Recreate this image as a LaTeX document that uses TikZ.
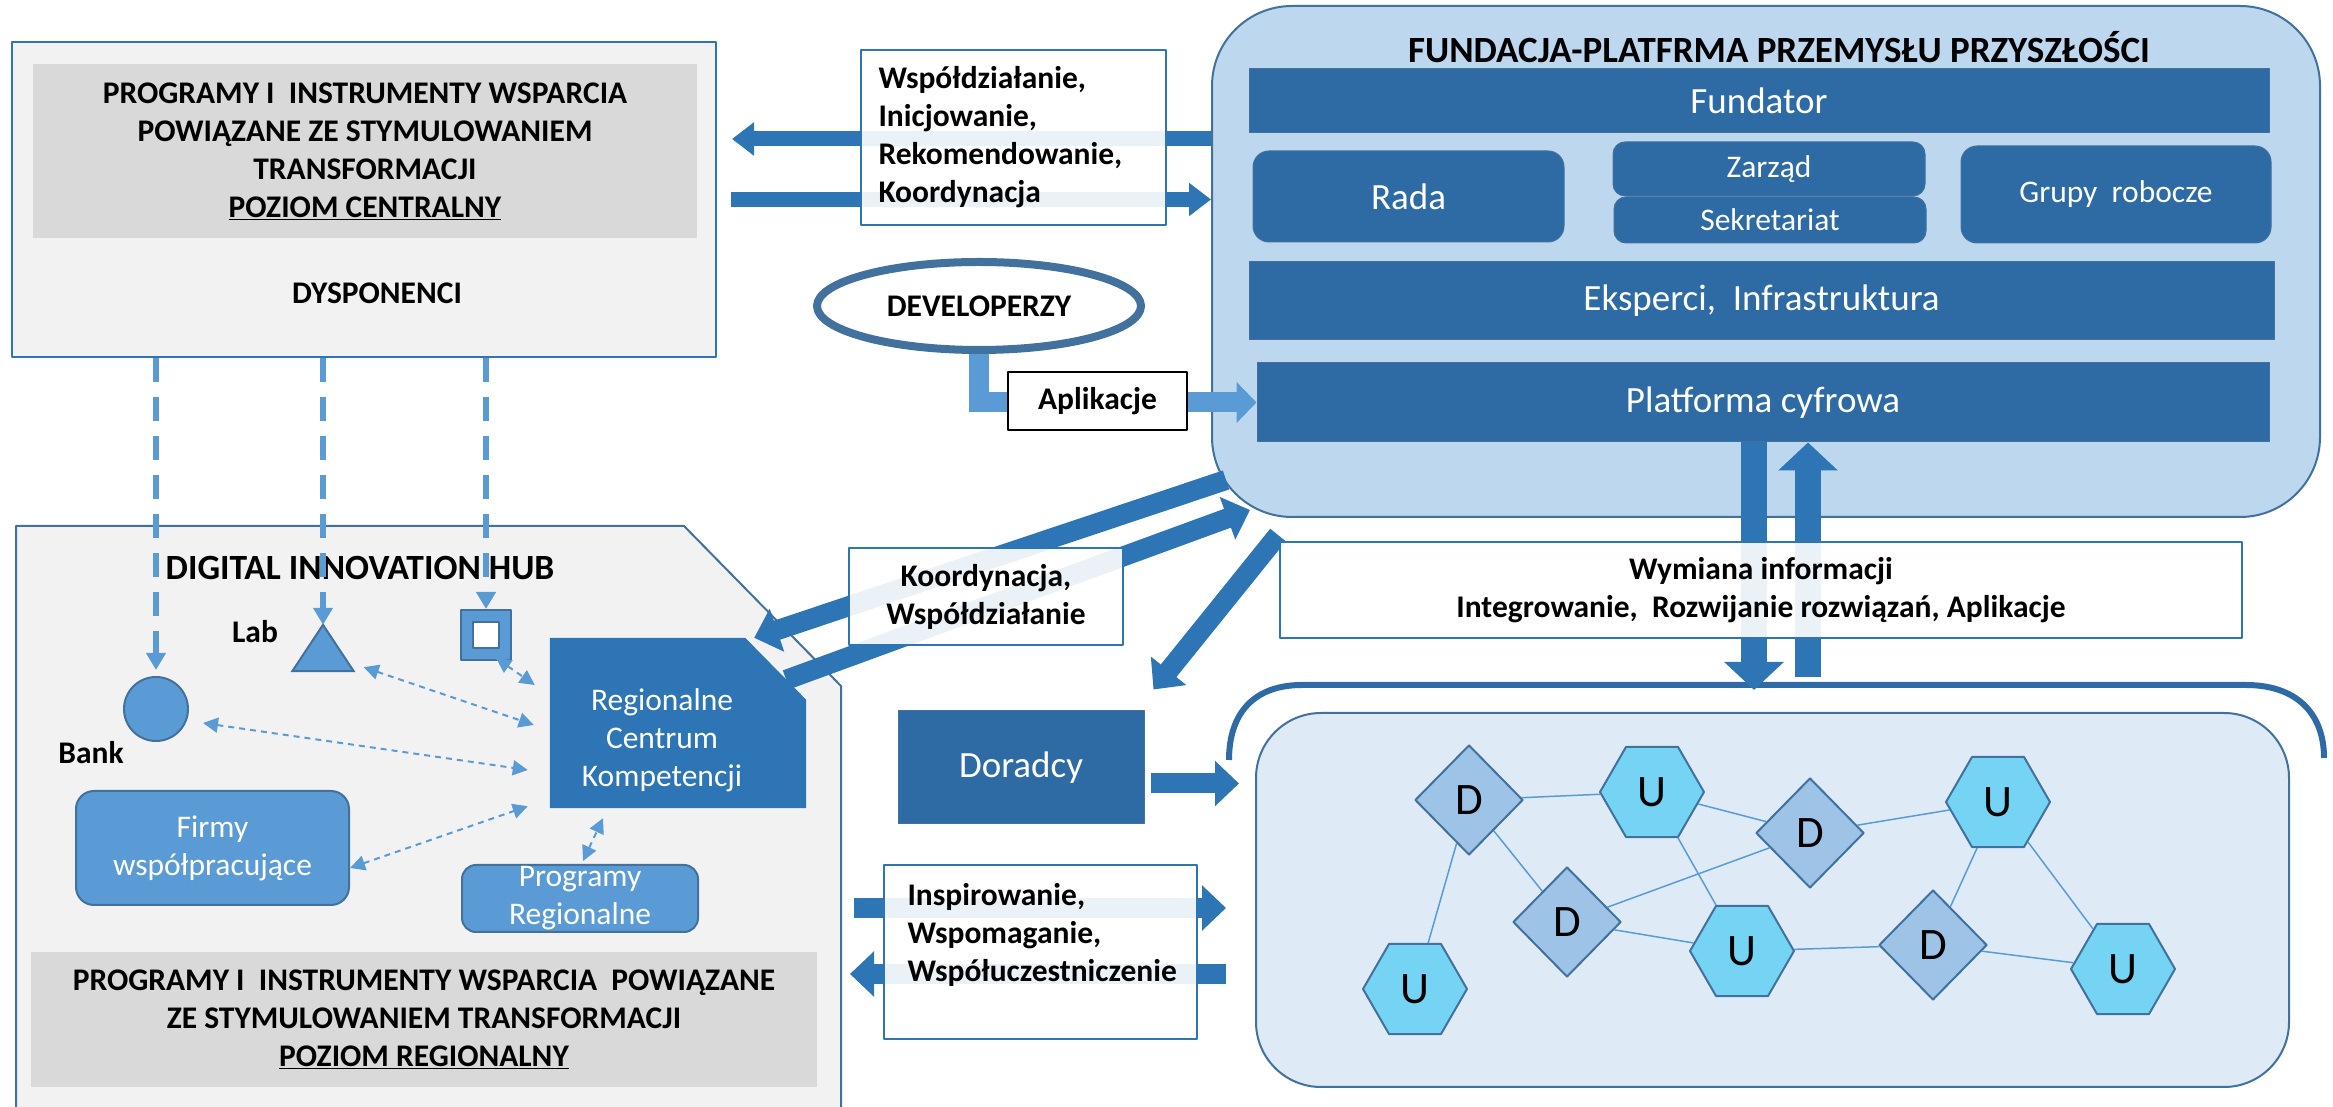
\documentclass[tikz,border=0pt]{standalone}
\usepackage{fontspec}
\setmainfont{Carlito}
\usetikzlibrary{arrows,arrows.meta,shapes}

\definecolor{arrowblue}{HTML}{2E75B6}
\definecolor{barblue}{HTML}{2E6BA5}
\definecolor{edgeblue}{HTML}{41719C}
\definecolor{midblue}{HTML}{5B9BD5}
\definecolor{paleblue}{HTML}{BDD7EE}
\definecolor{netbg}{HTML}{DEEBF7}
\definecolor{hexcyan}{HTML}{75D3F3}
\definecolor{diablue}{HTML}{9DC3E6}
\definecolor{boxgray}{HTML}{F2F2F2}
\definecolor{headgray}{HTML}{D9D9D9}

\newcommand{\labfont}{\fontsize{31.5bp}{38bp}\selectfont\bfseries}
\newcommand{\titfont}{\fontsize{37bp}{40bp}\selectfont\bfseries}
\newcommand{\barfont}{\fontsize{37bp}{40bp}\selectfont}
\newcommand{\inbfont}{\fontsize{31.5bp}{38bp}\selectfont}
\newcommand{\netfont}{\fontsize{45bp}{45bp}\selectfont}

\tikzset{
  graybox/.style={draw=arrowblue, line width=2bp, fill=boxgray, inner sep=0pt},
  headbox/.style={fill=headgray, inner sep=0pt, align=center, font=\labfont},
  txtbox/.style={draw=arrowblue, line width=1.5bp, fill=white, fill opacity=0.9, text opacity=1, inner sep=0pt, font=\labfont},
  fundbar/.style={fill=barblue, draw=edgeblue, line width=1bp, text=white, font=\barfont, inner sep=0pt},
  roundbar/.style={fundbar, rounded corners=16bp},
  smallbox/.style={fill=midblue, draw=edgeblue, line width=2bp, text=white, font=\inbfont, align=center, inner sep=0pt, rounded corners=18bp},
  bigarrow/.style={draw=arrowblue, line width=20bp, -{Triangle[width=44bp,length=24bp]}},
  toparrow/.style={draw=arrowblue, line width=15bp, -{Triangle[width=32bp,length=22bp]}},
  vertarrow/.style={draw=arrowblue, line width=26bp, -{Triangle[width=58bp,length=28bp]}},
  aplarrow/.style={draw=midblue, line width=20bp, line join=miter, -{Triangle[width=40bp,length=20bp]}},
  dashlink/.style={draw=midblue, line width=6bp, dash pattern=on 24bp off 15bp, -{Triangle[width=19bp,length=17bp]}},
  dotlink/.style={draw=midblue, line width=2bp, dash pattern=on 6bp off 5bp, {Triangle[width=15bp,length=15bp]}-{Triangle[width=15bp,length=15bp]}},
  unode/.style={regular polygon, regular polygon sides=6, minimum size=104bp, fill=hexcyan, draw=edgeblue, line width=2bp, inner sep=0pt, font=\netfont},
  dnode/.style={diamond, minimum width=108bp, minimum height=110bp, fill=diablue, draw=edgeblue, line width=2bp, inner sep=0pt, font=\netfont},
  netline/.style={draw=midblue, line width=1.5bp},
}

\begin{document}
\begin{tikzpicture}[>=latex',line join=bevel,]
%%
\useasboundingbox (0bp,0bp) rectangle (2333bp,1107bp);
% central level
\node (central) at (364bp,907.5bp) [graybox, minimum width=704bp, minimum height=315bp] {};
\node (centralhead) at (365bp,956bp) [headbox, minimum width=664bp, minimum height=174bp] {PROGRAMY I\ \ INSTRUMENTY WSPARCIA\\POWIĄZANE ZE STYMULOWANIEM\\TRANSFORMACJI\\\underline{POZIOM CENTRALNY}};
\node (dysp) at (377bp,814bp) [font=\labfont] {DYSPONENCI};
% digital innovation hub
\draw [draw=edgeblue, line width=2bp, fill=boxgray] (16bp,-10bp) -- (16bp,581bp) -- (684bp,581bp) -- (841bp,421bp) -- (841bp,-10bp) -- cycle;
\node (dihtitle) at (360bp,539bp) [font=\fontsize{35.5bp}{40bp}\selectfont\bfseries] {DIGITAL INNOVATION HUB};
\node (bank) at (156bp,398bp) [circle, minimum size=64bp, fill=midblue, draw=edgeblue, line width=2bp, inner sep=0pt] {};
\node (banklab) at (91bp,354bp) [font=\labfont] {Bank};
\node (lab) at (323bp,459bp) [minimum width=61bp, minimum height=46bp, inner sep=0pt] {};
\filldraw [fill=midblue, draw=edgeblue, line width=2bp, line join=miter] (lab.south west) -- (lab.north) -- (lab.south east) -- cycle;
\node (lablab) at (255bp,475bp) [font=\labfont] {Lab};
\node (sq) at (486bp,472bp) [minimum size=50bp, fill=midblue, draw=edgeblue, line width=2bp, inner sep=0pt] {};
\node (sqin) at (486bp,472bp) [minimum size=26bp, fill=white, draw=edgeblue, line width=2bp, inner sep=0pt] {};
\node (rck) at (678bp,384bp) [minimum width=256bp, minimum height=170bp, inner sep=0pt] {};
\fill [arrowblue] (rck.south west) -- (rck.north west) -- ([xshift=-61bp]rck.north east) -- ([yshift=-62bp]rck.north east) -- (rck.south east) -- cycle;
\node (rcktxt) at (662bp,367bp) [text=white, font=\inbfont, align=center] {Regionalne\\Centrum\\Kompetencji};
\node (firmy) at (212.5bp,259bp) [smallbox, minimum width=273bp, minimum height=114bp] {Firmy\\współpracujące};
\node (prog) at (580bp,208.5bp) [smallbox, rounded corners=14bp, minimum width=236bp, minimum height=67bp] {Programy\\Regionalne};
\node (reghead) at (424bp,87.5bp) [headbox, minimum width=786bp, minimum height=135bp] {PROGRAMY I\ \ INSTRUMENTY WSPARCIA\ \ POWIĄZANE\\ZE STYMULOWANIEM TRANSFORMACJI\\\underline{POZIOM REGIONALNY}};
\draw [dashlink, shorten >=6bp] (central.south -| bank.north) -- (bank.north);
\draw [dashlink] (central.south -| lab.north) -- (lab.north);
\draw [dashlink] (central.south -| sq.north) -- (sq.north);
\draw [dotlink] ([xshift=10bp,yshift=3bp]sq.south) -- ([xshift=-15bp,yshift=38bp]rck.west);
\draw [dotlink] ([xshift=10bp,yshift=4bp]lab.south east) -- ([xshift=-16bp,yshift=-2bp]rck.west);
\draw [dotlink] ([xshift=14bp,yshift=-14bp]bank.east) -- ([xshift=-22bp,yshift=-47bp]rck.west);
\draw [dotlink] ([yshift=-20bp]firmy.east) -- ([xshift=-22bp,yshift=2bp]rck.south west);
\draw [dotlink] ([xshift=3bp,yshift=3bp]prog.north) -- ([xshift=-75bp,yshift=-10bp]rck.south);
% fundacja
\node (fund) at (1766bp,845.5bp) [fill=paleblue, draw=edgeblue, line width=2bp, rounded corners=80bp, minimum width=1108bp, minimum height=511bp] {};
\node (fundtitle) at (1779bp,1060bp) [font=\titfont] {FUNDACJA-PLATFRMA PRZEMYSŁU PRZYSZŁOŚCI};
\node (fundator) at (1759bp,1006bp) [fundbar, minimum width=1020bp, minimum height=64bp] {Fundator};
\node (rada) at (1408.5bp,910.5bp) [roundbar, minimum width=311bp, minimum height=91bp] {Rada};
\node (zarzad) at (1769bp,938bp) [roundbar, rounded corners=12bp, font=\inbfont, minimum width=312bp, minimum height=54bp] {Zarząd};
\node (sekret) at (1770bp,887bp) [roundbar, rounded corners=12bp, font=\inbfont, minimum width=312bp, minimum height=46bp] {Sekretariat};
\node (grupy) at (2116bp,912.5bp) [roundbar, font=\inbfont, minimum width=310bp, minimum height=97bp] {Grupy\ \ robocze};
\node (eksperci) at (1761.5bp,806bp) [fundbar, minimum width=1025bp, minimum height=78bp] {Eksperci,\ \ Infrastruktura};
\node (platforma) at (1763bp,704.5bp) [fundbar, minimum width=1012bp, minimum height=79bp] {Platforma cyfrowa};
% central <-> fundacja
\coordinate (wspmid) at (1013bp,968bp);
\draw [toparrow, shorten >=15bp] (fund.west |- wspmid) -- (central.east |- wspmid);
\draw [toparrow, shorten <=14bp] (central.east) -- (fund.west |- central.east);
\node (wsp) at (1013.5bp,969.5bp) [txtbox, text width=270bp, align=left, inner xsep=17.5bp, minimum height=175bp] {Współdziałanie,\\Inicjowanie,\\Rekomendowanie,\\Koordynacja};
% developerzy
\node (dev) at (979bp,801bp) [ellipse, draw=edgeblue, line width=8bp, fill=white, minimum width=324bp, minimum height=88bp, inner sep=0pt, font=\labfont] {DEVELOPERZY};
\draw [aplarrow] (dev.south) |- (platforma.west);
\node (apl) at (1097.5bp,706bp) [draw=black, line width=2.5bp, fill=white, minimum width=179bp, minimum height=58bp, inner sep=0pt, font=\labfont] {Aplikacje};
% doradcy, koordynacja
\node (dor) at (1021bp,339.5bp) [fundbar, minimum width=246bp, minimum height=113bp] {Doradcy};
\coordinate (koA) at (1226bp,627bp);
\coordinate (koB) at (1250bp,597bp);
\coordinate (koC) at (1278bp,572bp);
\draw [bigarrow] (koA) -- ([xshift=-52bp]rck.north east);
\draw [bigarrow] ([xshift=-20bp,yshift=-42bp]rck.north east) -- (koB);
\draw [bigarrow] (koC) -- ([xshift=9bp,yshift=21bp]dor.north east);
\node (koord) at (986bp,510.5bp) [txtbox, align=center, minimum width=274bp, minimum height=97bp] {Koordynacja,\\Współdziałanie};
% network
\node (siec) at (1772.5bp,207bp) [fill=netbg, draw=edgeblue, line width=2bp, rounded corners=65bp, minimum width=1033bp, minimum height=374bp] {};
\coordinate (bracetop) at (1772bp,422bp);
\draw [draw=barblue, line width=6bp] (1229bp,347bp) .. controls (1229bp,395bp) and (1255bp,422bp) .. (1302bp,422bp) -- (2246bp,422bp) .. controls (2295bp,422bp) and (2324bp,395bp) .. (2324bp,349bp);
\coordinate (downtop) at ([xshift=-9bp]platforma.south);
\coordinate (uptop) at ([xshift=45bp]platforma.south);
\draw [vertarrow, shorten >=-5bp] (downtop) -- (downtop |- bracetop);
\draw [vertarrow, shorten <=8bp] (uptop |- bracetop) -- (uptop);
\node (wymiana) at (1761bp,517bp) [txtbox, align=center, minimum width=962bp, minimum height=96bp] {Wymiana informacji\\Integrowanie,\ \ Rozwijanie rozwiązań, Aplikacje};
\coordinate (dorout) at ([yshift=-16bp]dor.east);
\draw [bigarrow, shorten <=6bp, shorten >=16bp] (dorout) -- (dorout -| siec.west);
\coordinate (inR) at (854bp,199bp);
\coordinate (inL) at (850bp,133bp);
\draw [bigarrow, shorten >=29bp] (inR) -- (inR -| siec.west);
\draw [bigarrow, shorten <=29bp] (inL -| siec.west) -- (inL);
\node (insp) at (1040.5bp,155bp) [txtbox, minimum width=313bp, minimum height=174bp] {};
\node (insptxt) at (904bp,172bp) [anchor=west, align=left, font=\labfont] {Inspirowanie,\\Wspomaganie,\\Współuczestniczenie};
\node (d1) at (1469bp,307bp) [dnode] {D};
\node (u1) at (1652bp,315bp) [unode] {U};
\node (d2) at (1810bp,274bp) [dnode] {D};
\node (u2) at (1998bp,305bp) [unode] {U};
\node (d3) at (1567bp,185bp) [dnode] {D};
\node (u3) at (1742bp,156bp) [unode] {U};
\node (d4) at (1933bp,162bp) [dnode] {D};
\node (u4) at (2123bp,138bp) [unode] {U};
\node (u5) at (1415bp,118bp) [unode] {U};
\draw [netline] (d1) -- (u1);
\draw [netline] (u1) -- (d2);
\draw [netline] (d2) -- (u2);
\draw [netline] (d1) -- (d3);
\draw [netline] (d1) -- (u5);
\draw [netline] (u1) -- (u3);
\draw [netline] (d3) -- (d2);
\draw [netline] (d3) -- (u3);
\draw [netline] (u3) -- (d4);
\draw [netline] (d4) -- (u4);
\draw [netline] (u2) -- (d4);
\draw [netline] (u2) -- (u4);
%
\end{tikzpicture}
\end{document}
